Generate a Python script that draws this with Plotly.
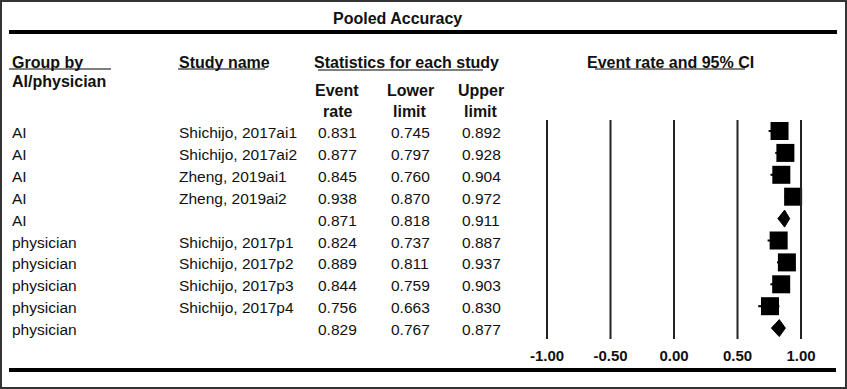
import plotly.graph_objects as go

# ---------------- data ----------------
groups = ["AI", "AI", "AI", "AI", "AI",
          "physician", "physician", "physician", "physician", "physician"]
studies = ["Shichijo, 2017ai1", "Shichijo, 2017ai2", "Zheng, 2019ai1", "Zheng, 2019ai2", "",
           "Shichijo, 2017p1", "Shichijo, 2017p2", "Shichijo, 2017p3", "Shichijo, 2017p4", ""]
event_rate = [0.831, 0.877, 0.845, 0.938, 0.871, 0.824, 0.889, 0.844, 0.756, 0.829]
lower_limit = [0.745, 0.797, 0.760, 0.870, 0.818, 0.737, 0.811, 0.759, 0.663, 0.767]
upper_limit = [0.892, 0.928, 0.904, 0.972, 0.911, 0.887, 0.937, 0.903, 0.830, 0.877]
is_summary = [False, False, False, False, True, False, False, False, False, True]
tick_values = [-1.0, -0.5, 0.0, 0.5, 1.0]
tick_labels = ["-1.00", "-0.50", "0.00", "0.50", "1.00"]
title_text = "Pooled Accuracy"

# ---------------- layout helpers ----------------
W, H = 847, 389
FONT = "Liberation Sans, Arial, sans-serif"
ROW0, ROWH = 131.0, 21.9       # pixel centre of first row, row pitch
PLOT_BOTTOM = 345.0            # pixel of plot-area bottom (x axis)
X_ZERO, X_UNIT = 674.0, 127.0  # pixel of 0.00 and pixels per unit


def px(x):
    return x / W


def py(y):
    return 1 - y / H


rows = list(range(len(event_rate)))
study_rows = [r for r in rows if not is_summary[r]]
sum_rows = [r for r in rows if is_summary[r]]

fig = go.Figure()

# study squares with CI whiskers
fig.add_trace(go.Scatter(
    x=[event_rate[r] for r in study_rows],
    y=study_rows,
    mode="markers",
    marker=dict(symbol="square", size=18, color="black", line=dict(width=0)),
    error_x=dict(type="data", symmetric=False,
                 array=[upper_limit[r] - event_rate[r] for r in study_rows],
                 arrayminus=[event_rate[r] - lower_limit[r] for r in study_rows],
                 thickness=2, width=0, color="black"),
    hoverinfo="skip", showlegend=False,
))

# summary diamonds
half = 8.5 / ROWH
for r in sum_rows:
    fig.add_trace(go.Scatter(
        x=[lower_limit[r], event_rate[r], upper_limit[r], event_rate[r], lower_limit[r]],
        y=[r, r - half, r, r + half, r],
        mode="lines", fill="toself", fillcolor="black",
        line=dict(color="black", width=1),
        hoverinfo="skip", showlegend=False,
    ))

shapes = []
# vertical reference lines
for v in tick_values:
    shapes.append(dict(type="line", xref="x", yref="paper", x0=v, x1=v,
                       y0=py(339), y1=py(120), line=dict(color="#222222", width=2)))
# thick rules
shapes.append(dict(type="line", xref="paper", yref="paper", x0=px(9), x1=px(837),
                   y0=py(32), y1=py(32), line=dict(color="black", width=4)))
shapes.append(dict(type="line", xref="paper", yref="paper", x0=px(9), x1=px(836),
                   y0=py(370), y1=py(370), line=dict(color="black", width=4)))
# header underlines
for x0, x1, y in [(9, 111, 69), (178, 265, 69), (318, 483, 70), (595, 745, 69)]:
    shapes.append(dict(type="line", xref="paper", yref="paper", x0=px(x0), x1=px(x1),
                       y0=py(y), y1=py(y), line=dict(color="#555555", width=1.5)))
# outer border
shapes.append(dict(type="rect", xref="paper", yref="paper", x0=px(1), x1=px(846),
                   y0=py(388), y1=py(1), line=dict(color="#333333", width=2)))

ann = []
hdr = dict(family=FONT, size=16, color="#111111", weight="bold")
txt = dict(family=FONT, size=15.5, color="#111111")


def add_hdr(text, x, y, anchor="left"):
    ann.append(dict(text=text, xref="paper", yref="paper", x=px(x), y=py(y),
                    xanchor=anchor, yanchor="middle", showarrow=False, font=hdr))


add_hdr(title_text, 397.5, 18, "center")
add_hdr("Group by", 10, 62)
add_hdr("AI/physician", 10, 82)
add_hdr("Study name", 177, 62)
add_hdr("Statistics for each study", 312, 63)
add_hdr("Event rate and 95% CI", 585, 62)
for cx, t1, t2 in [(337, "Event", "rate"), (410, "Lower", "limit"), (481, "Upper", "limit")]:
    add_hdr(t1, cx, 91, "center")
    add_hdr(t2, cx, 112, "center")

for r in rows:
    for text, x, anchor in [(groups[r], 10, "left"), (studies[r], 177, "left"),
                            ("%.3f" % event_rate[r], 337, "center"),
                            ("%.3f" % lower_limit[r], 410, "center"),
                            ("%.3f" % upper_limit[r], 481, "center")]:
        if text:
            ann.append(dict(text=text, xref="paper", yref="y", x=px(x), y=r,
                            xanchor=anchor, yanchor="middle", yshift=-1.5,
                            showarrow=False, font=txt))

fig.update_layout(
    width=W, height=H,
    margin=dict(l=0, r=0, t=0, b=0),
    paper_bgcolor="white", plot_bgcolor="white",
    showlegend=False,
    shapes=shapes, annotations=ann,
    xaxis=dict(domain=[0, 1], range=[-X_ZERO / X_UNIT, (W - X_ZERO) / X_UNIT],
               showgrid=False, zeroline=False, showline=False, ticks="",
               tickvals=tick_values, ticktext=tick_labels,
               tickfont=dict(family=FONT, size=15, color="#111111", weight="bold"),
               fixedrange=True),
    yaxis=dict(domain=[1 - PLOT_BOTTOM / H, 1],
               range=[(PLOT_BOTTOM - ROW0) / ROWH, -ROW0 / ROWH],
               showgrid=False, zeroline=False, showline=False,
               showticklabels=False, ticks="", fixedrange=True),
)

fig.write_html("out.html", config={"displayModeBar": False},
               post_script="document.body.style.margin='0px';document.body.style.overflow='hidden';")
